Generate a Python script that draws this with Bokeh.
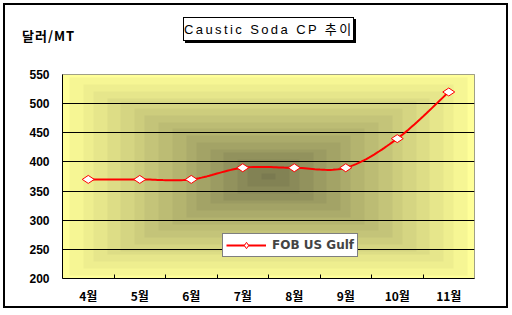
import numpy as np
from bokeh.plotting import figure
from bokeh.layouts import column
from bokeh.models import FixedTicker, Range1d, Legend, LegendItem, Div
from bokeh.embed import file_html
from bokeh.resources import INLINE

months = ["4월", "5월", "6월", "7월", "8월", "9월", "10월", "11월"]
fob_us_gulf = [370, 370, 370, 390, 390, 390, 440, 520]
y_ticks = [200, 250, 300, 350, 400, 450, 500, 550]
series_name = "FOB US Gulf"
title_text = "Caustic Soda CP 추이"
y_unit = "달러/MT"

n = len(months)
xs = np.arange(n) + 0.5
ys = np.array(fob_us_gulf, dtype=float)

# smoothed line (Catmull-Rom through the data points)
def smooth(x, y, steps=20):
    px = np.concatenate([[x[0]], x, [x[-1]]])
    py = np.concatenate([[y[0]], y, [y[-1]]])
    ox, oy = [], []
    for i in range(1, len(px) - 2):
        t = np.linspace(0, 1, steps, endpoint=False)
        for arr, out in ((px, ox), (py, oy)):
            p0, p1, p2, p3 = arr[i - 1], arr[i], arr[i + 1], arr[i + 2]
            out.extend(0.5 * ((2 * p1) + (-p0 + p2) * t + (2 * p0 - 5 * p1 + 4 * p2 - p3) * t ** 2
                              + (-p0 + 3 * p1 - 3 * p2 + p3) * t ** 3))
    ox.append(x[-1]); oy.append(y[-1])
    return ox, oy

sx, sy = smooth(xs, ys)

# outer box: margin 3 + border 2 -> inner origin at (5,5), inner size 501 x 301
p = figure(width=501, height=246, output_backend="svg", toolbar_location=None,
           x_range=Range1d(0, n), y_range=Range1d(y_ticks[0], y_ticks[-1]),
           min_border_left=57, min_border_right=32, min_border_top=14, min_border_bottom=27)
p.margin = 0
p.border_fill_color = "white"
p.background_fill_color = "#FFFF99"
p.outline_line_color = "#808080"

# rectangular "from center" gradient background
H, W = 60, 120
yy, xx = np.mgrid[0:H, 0:W]
dx = np.abs((xx + 0.5) / W - 0.5) * 2
dy = np.abs((yy + 0.5) / H - 0.5) * 2
t = np.maximum(dx, dy)
t = np.minimum(1.0, np.floor(t * 16 + 0.5) / 16)
c0 = np.array([122, 122, 80]); c1 = np.array([255, 255, 153])
img = np.zeros((H, W), dtype=np.uint32)
view = img.view(dtype=np.uint8).reshape((H, W, 4))
for k in range(3):
    view[:, :, k] = (c0[k] + (c1[k] - c0[k]) * t).astype(np.uint8)
view[:, :, 3] = 255
p.image_rgba(image=[img], x=0, y=y_ticks[0], dw=n, dh=y_ticks[-1] - y_ticks[0], level="image")

line = p.line(sx, sy, line_color="red", line_width=2)
pts = p.scatter(xs, ys, marker="diamond", angle=np.pi / 2, size=12,
                fill_color="white", line_color="red", line_width=1)

p.xgrid.visible = False
p.ygrid.grid_line_color = "black"
p.ygrid.grid_line_width = 1
p.ygrid.ticker = FixedTicker(ticks=y_ticks[1:-1])

p.xaxis.ticker = FixedTicker(ticks=list(xs), minor_ticks=list(np.arange(1, n)))
p.xaxis.major_label_overrides = {float(x): m for x, m in zip(xs, months)}
p.xaxis.major_tick_in = 0
p.xaxis.major_tick_out = 0
p.xaxis.minor_tick_in = 4
p.xaxis.minor_tick_out = 0
p.xaxis.minor_tick_line_color = "black"
p.xaxis.axis_line_color = "black"
p.xaxis.major_label_standoff = 8
p.xaxis.major_label_text_font = "Noto Sans CJK KR"
p.xaxis.major_label_text_font_style = "bold"
p.xaxis.major_label_text_font_size = "12px"
p.xaxis.major_label_text_color = "black"

p.yaxis.ticker = FixedTicker(ticks=y_ticks)
p.yaxis.major_tick_in = 0
p.yaxis.major_tick_out = 0
p.yaxis.minor_tick_line_color = None
p.yaxis.axis_line_color = "black"
p.yaxis.major_label_standoff = 13
p.yaxis.major_label_text_font = "Liberation Sans"
p.yaxis.major_label_text_font_style = "bold"
p.yaxis.major_label_text_font_size = "12px"
p.yaxis.major_label_text_color = "black"

legend = Legend(items=[LegendItem(label=series_name, renderers=[line, pts])],
                location=(160, 21), orientation="horizontal")
legend.border_line_color = "black"
legend.border_line_width = 1
legend.background_fill_color = "white"
legend.background_fill_alpha = 1
legend.label_text_font = "DejaVu Sans"
legend.label_text_font_style = "bold"
legend.label_text_font_size = "12px"
legend.glyph_width = 40
legend.glyph_height = 16
legend.label_height = 16
legend.padding = 3
legend.margin = 0
legend.label_standoff = 6
p.add_layout(legend, "center")

header = Div(width=501, height=55, margin=0, text=(
    '<div style="position:relative;width:501px;height:55px;">'
    '<div style="position:absolute;left:178px;top:12px;width:171px;height:24px;'
    'border:1px solid black;box-shadow:2px 2px 0 black;background:white;'
    'font-family:\'Liberation Sans\',\'Noto Sans CJK KR\';font-size:13px;letter-spacing:2.4px;'
    'line-height:24px;text-align:center;color:black;white-space:nowrap;">'
    f'{title_text}</div>'
    '<div style="position:absolute;left:17px;top:24px;font-family:\'Noto Sans CJK KR\';'
    'font-weight:bold;font-size:13px;letter-spacing:1px;line-height:14px;color:black;white-space:nowrap;">'
    f'{y_unit}</div></div>'))

layout = column(header, p, spacing=0,
                styles={"margin": "3px", "border": "2px solid black", "background": "white"})

open("out.html", "w").write(file_html(layout, INLINE))
